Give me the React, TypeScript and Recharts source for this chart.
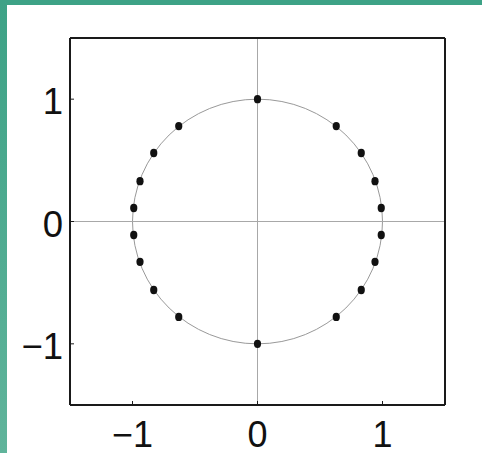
import React from "react";
import {
  ScatterChart,
  Scatter,
  XAxis,
  YAxis,
  ReferenceLine,
  ReferenceArea,
} from "recharts";

// points around the unit circle, clockwise from the top
const pointX = [
  0, 0.63, 0.83, 0.94, 0.99, 0.99, 0.94, 0.83, 0.63,
  0, -0.63, -0.83, -0.94, -0.99, -0.99, -0.94, -0.83, -0.63,
];
const pointY = [
  1, 0.78, 0.56, 0.33, 0.11, -0.11, -0.33, -0.56, -0.78,
  -1, -0.78, -0.56, -0.33, -0.11, 0.11, 0.33, 0.56, 0.78,
];
const ringRadius = 1;
const axisTicks = [-1, 0, 1];
const axisDomain: [number, number] = [-1.5, 1.5];

const points = pointX.map((x, i) => ({ x, y: pointY[i] }));

const FONT = "'Liberation Sans', Arial, Helvetica, sans-serif";
const BOX = "#1a1a1a";

const fmt = (v: number) => String(v).replace("-", "\u2212");

const BottomTick = (props: any) => {
  const { x, y, payload } = props;
  return (
    <text x={x} y={y} dy={25.5} textAnchor="middle" fontSize={36} fontFamily={FONT} fill="#111">
      {fmt(payload.value)}
    </text>
  );
};

const LeftTick = (props: any) => {
  const { x, y, payload } = props;
  return (
    <text x={x} y={y} dy={15} textAnchor="end" fontSize={36.5} fontFamily={FONT} fill="#111">
      {fmt(payload.value)}
    </text>
  );
};

const Dot = (props: any) => {
  const { cx, cy } = props;
  return <ellipse cx={cx} cy={cy} rx={3.6} ry={4.2} fill="#111" />;
};

// circle inscribed in the area spanned by +/- ringRadius
const Ring = (props: any) => {
  const { x, y, width, height } = props;
  return (
    <ellipse
      cx={x + width / 2}
      cy={y + height / 2}
      rx={width / 2}
      ry={height / 2}
      fill="none"
      stroke="#999"
      strokeWidth={1}
    />
  );
};

export default function App() {
  return (
    <div
      style={{
        position: "absolute",
        top: 0,
        left: 0,
        width: 482,
        height: 453,
        background: "#fff",
        overflow: "hidden",
      }}
    >
      <div style={{ position: "absolute", top: 0, left: 0, width: 482, height: 5, background: "#3da286" }} />
      <div
        style={{
          position: "absolute",
          top: 0,
          left: 0,
          width: 7,
          height: 453,
          background: "linear-gradient(#3da286, #60b49b)",
        }}
      />
      <div style={{ position: "absolute", top: 0, left: 0 }}>
        <ScatterChart width={482} height={453} margin={{ top: 37, right: 36, bottom: 0, left: 10 }}>
          <XAxis
            xAxisId="bottom"
            type="number"
            dataKey="x"
            domain={axisDomain}
            ticks={axisTicks}
            allowDataOverflow
            orientation="bottom"
            height={48}
            tickSize={-4}
            tickMargin={20}
            tick={<BottomTick />}
            axisLine={{ stroke: BOX, strokeWidth: 2 }}
            tickLine={{ stroke: BOX }}
          />
          <XAxis
            xAxisId="top"
            type="number"
            domain={axisDomain}
            ticks={axisTicks}
            allowDataOverflow
            orientation="top"
            height={1}
            tickSize={-4}
            tick={false}
            axisLine={{ stroke: BOX, strokeWidth: 2 }}
            tickLine={{ stroke: BOX }}
          />
          <YAxis
            yAxisId="left"
            type="number"
            dataKey="y"
            domain={axisDomain}
            ticks={axisTicks}
            allowDataOverflow
            orientation="left"
            width={60}
            tickSize={-4}
            tickMargin={11}
            tick={<LeftTick />}
            axisLine={{ stroke: BOX, strokeWidth: 2 }}
            tickLine={{ stroke: BOX }}
          />
          <YAxis
            yAxisId="right"
            type="number"
            domain={axisDomain}
            ticks={axisTicks}
            allowDataOverflow
            orientation="right"
            width={1}
            tickSize={-4}
            tick={false}
            axisLine={{ stroke: BOX, strokeWidth: 2 }}
            tickLine={{ stroke: BOX }}
          />
          <ReferenceLine xAxisId="bottom" yAxisId="left" x={0} stroke="#a8a8a8" strokeWidth={1} />
          <ReferenceLine xAxisId="bottom" yAxisId="left" y={0} stroke="#a8a8a8" strokeWidth={1} />
          <ReferenceArea
            xAxisId="bottom"
            yAxisId="left"
            x1={-ringRadius}
            x2={ringRadius}
            y1={-ringRadius}
            y2={ringRadius}
            shape={<Ring />}
          />
          <Scatter
            xAxisId="bottom"
            yAxisId="left"
            data={points}
            shape={<Dot />}
            isAnimationActive={false}
          />
        </ScatterChart>
      </div>
    </div>
  );
}
